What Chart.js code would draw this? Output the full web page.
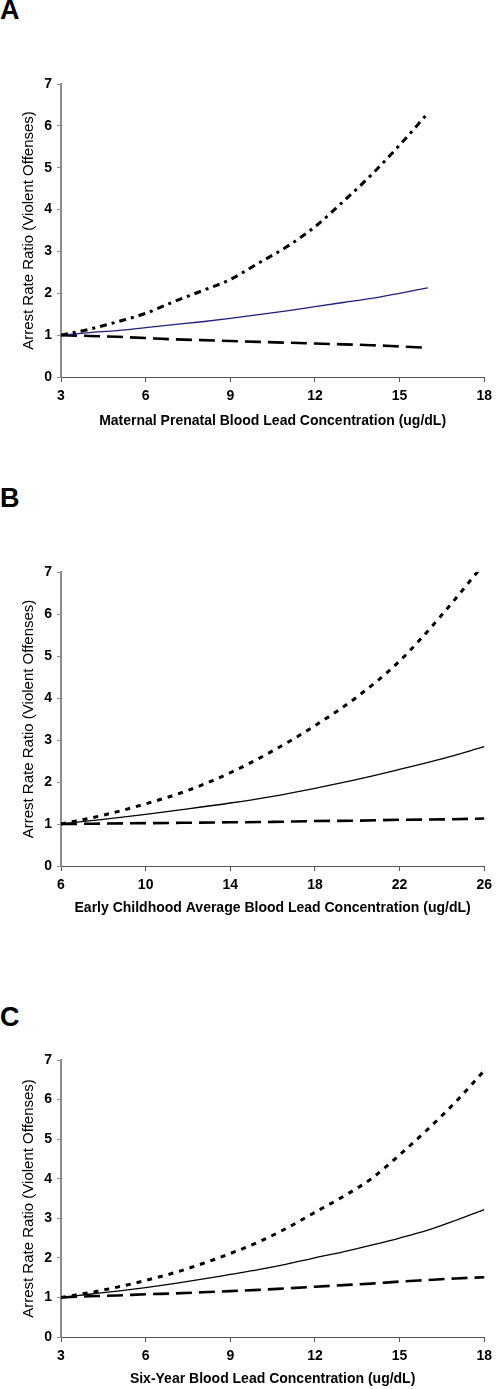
<!DOCTYPE html>
<html>
<head>
<meta charset="utf-8">
<script src="https://cdn.jsdelivr.net/npm/chart.js@4.4.1/dist/chart.umd.min.js"></script>
<style>
  html, body { margin: 0; padding: 0; overflow: hidden; background: #fff; width: 498px; height: 1389px; }
  canvas.panel { position: absolute; left: 0; }
  .letter { position: absolute; left: 0; font: bold 27px "Liberation Sans", Arial, sans-serif; line-height: 27px; color: #000; }
</style>
</head>
<body>
<div class="letter" style="top:-3px">A</div>
<div class="letter" style="top:485px">B</div>
<div class="letter" style="top:1004px">C</div>
<canvas id="chartA" class="panel"></canvas>
<canvas id="chartB" class="panel"></canvas>
<canvas id="chartC" class="panel"></canvas>
<script>
// Panel A: maternal prenatal blood lead
const xA = [3, 4, 5, 6, 7, 8, 9, 10, 11, 12, 13, 14, 15, 16];
const upperA = [1.00, 1.14, 1.32, 1.52, 1.80, 2.06, 2.33, 2.72, 3.11, 3.59, 4.19, 4.83, 5.54, 6.30];
const meanA = [1.00, 1.06, 1.11, 1.18, 1.25, 1.32, 1.40, 1.49, 1.58, 1.68, 1.78, 1.88, 2.00, 2.13];
const lowerA = [1.00, 0.98, 0.96, 0.93, 0.90, 0.88, 0.86, 0.84, 0.82, 0.80, 0.78, 0.76, 0.73, 0.70];
const xTicksA = [3, 6, 9, 12, 15, 18];

// Panel B: early childhood average blood lead
const xB = [6, 8, 10, 12, 14, 16, 18, 20, 22, 24, 26];
const upperB = [1.00, 1.21, 1.48, 1.80, 2.22, 2.74, 3.34, 4.03, 4.88, 5.98, 7.20];
const meanB = [1.00, 1.11, 1.23, 1.36, 1.50, 1.66, 1.85, 2.06, 2.30, 2.55, 2.84];
const lowerB = [1.00, 1.01, 1.02, 1.03, 1.04, 1.05, 1.07, 1.08, 1.10, 1.11, 1.13];
const xTicksB = [6, 10, 14, 18, 22, 26];

// Panel C: six-year blood lead
const xC = [3, 4, 5, 6, 7, 8, 9, 10, 11, 12, 13, 14, 15, 16, 17, 18];
const upperC = [1.00, 1.12, 1.26, 1.43, 1.62, 1.85, 2.11, 2.40, 2.75, 3.15, 3.55, 4.00, 4.60, 5.25, 5.95, 6.73];
const meanC = [1.00, 1.08, 1.16, 1.25, 1.35, 1.46, 1.58, 1.70, 1.84, 2.00, 2.15, 2.32, 2.50, 2.70, 2.95, 3.22];
const lowerC = [1.00, 1.03, 1.05, 1.08, 1.10, 1.13, 1.16, 1.19, 1.23, 1.27, 1.31, 1.35, 1.40, 1.44, 1.48, 1.51];

const yTicks = [0, 1, 2, 3, 4, 5, 6, 7];
const yTitle = "Arrest Rate Ratio (Violent Offenses)";
const FONT = "'Liberation Sans', Arial, sans-serif";
const X_TITLE_SIZE = 14;

function points(xs, ys) {
  return xs.map((x, i) => ({ x: x, y: ys[i] }));
}

function makePanel(id, cfg) {
  const canvas = document.getElementById(id);
  // title is drawn with its centre half a line above the canvas bottom
  const height = Math.round(cfg.titleCenter + X_TITLE_SIZE * 0.6 - cfg.canvasTop);
  canvas.width = 498;
  canvas.height = height;
  canvas.style.width = "498px";
  canvas.style.height = height + "px";
  canvas.style.top = cfg.canvasTop + "px";
  const xAxisHeight = cfg.canvasTop + height - cfg.areaBottom;

  const line = (data, color, width, dash) => ({
    data: data,
    borderColor: color,
    backgroundColor: color,
    borderWidth: width,
    borderDash: dash,
    borderCapStyle: "butt",
    pointRadius: 0,
    cubicInterpolationMode: "monotone",
    clip: { left: 5, top: 0, right: 5, bottom: 5 },
  });

  new Chart(canvas, {
    type: "line",
    data: {
      datasets: [
        line(points(cfg.xs, cfg.upper), "#000", 3, cfg.upperDash),
        line(points(cfg.xs, cfg.mean), cfg.meanColor, 1.3, []),
        line(points(cfg.xs, cfg.lower), "#000", 2.6, [16, 7]),
      ],
    },
    options: {
      responsive: false,
      animation: false,
      devicePixelRatio: 1,
      layout: { padding: { left: 20, right: 8, top: cfg.areaTop - cfg.canvasTop, bottom: 0 } },
      plugins: { legend: { display: false }, tooltip: { enabled: false } },
      scales: {
        x: {
          type: "linear",
          min: cfg.xTicks[0],
          max: cfg.xTicks[cfg.xTicks.length - 1],
          afterBuildTicks: (s) => { s.ticks = cfg.xTicks.map((v) => ({ value: v })); },
          afterFit: (s) => { s.height = xAxisHeight; },
          border: { display: true, color: "#555", width: 1 },
          grid: { drawOnChartArea: false, drawTicks: true, tickLength: 5, color: "#555" },
          ticks: { color: "#000", padding: 6, font: { family: FONT, size: 14, weight: "bold" } },
          title: {
            display: true,
            text: cfg.xTitle,
            color: "#000",
            padding: { top: 0, bottom: 0 },
            font: { family: FONT, size: X_TITLE_SIZE, weight: "bold" },
          },
        },
        y: {
          min: 0,
          max: 7,
          afterBuildTicks: (s) => { s.ticks = yTicks.map((v) => ({ value: v })); },
          afterFit: (s) => { s.width = 41; },
          border: { display: true, color: "#8c8c8c", width: 2 },
          grid: { drawOnChartArea: false, drawTicks: true, tickLength: 4, color: "#8c8c8c" },
          ticks: { color: "#000", padding: 5, font: { family: FONT, size: 14, weight: "bold" } },
          title: {
            display: true,
            text: yTitle,
            color: "#000",
            padding: { top: 0, bottom: 0 },
            font: { family: FONT, size: 15, weight: "normal" },
          },
        },
      },
    },
  });
}

makePanel("chartA", {
  canvasTop: 44, areaTop: 84, areaBottom: 377, titleCenter: 422,
  xs: xA, upper: upperA, mean: meanA, lower: lowerA, xTicks: xTicksA,
  meanColor: "#1f1f7a", upperDash: [7, 5, 3, 5],
  xTitle: "Maternal Prenatal Blood Lead Concentration (ug/dL)",
});
makePanel("chartB", {
  canvasTop: 532, areaTop: 572, areaBottom: 866, titleCenter: 909,
  xs: xB, upper: upperB, mean: meanB, lower: lowerB, xTicks: xTicksB,
  meanColor: "#000", upperDash: [5, 6],
  xTitle: "Early Childhood Average Blood Lead Concentration (ug/dL)",
});
makePanel("chartC", {
  canvasTop: 1020, areaTop: 1060, areaBottom: 1337, titleCenter: 1380,
  xs: xC, upper: upperC, mean: meanC, lower: lowerC, xTicks: xTicksA,
  meanColor: "#000", upperDash: [5, 6],
  xTitle: "Six-Year Blood Lead Concentration (ug/dL)",
});
</script>
</body>
</html>
